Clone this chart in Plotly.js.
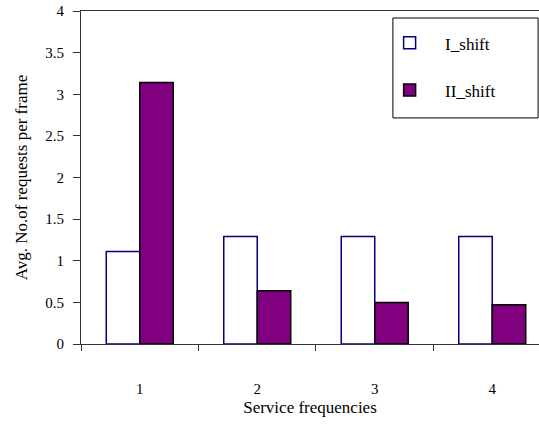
<!DOCTYPE html>
<html><head><meta charset="utf-8">
<script src="https://cdn.plot.ly/plotly-3.0.1.min.js"></script>
<style>html,body{margin:0;padding:0;background:#fff}#c{width:539px;height:425px}</style>
</head><body><div id="c"></div>
<script>
var categories = ["1", "2", "3", "4"];
var iShift = [1.11, 1.29, 1.29, 1.29];
var iiShift = [3.14, 0.64, 0.50, 0.47];
var yTicks = [0, 0.5, 1, 1.5, 2, 2.5, 3, 3.5, 4];

var font = {family: "Liberation Serif, Times New Roman, serif", color: "#000"};
var data = [
  {type: "bar", name: "I_shift", x: categories, y: iShift,
   marker: {color: "#ffffff", line: {color: "#000080", width: 1.5}}, legendgroup: "a"},
  {type: "bar", name: "II_shift", x: categories, y: iiShift,
   marker: {color: "#800080", line: {color: "#000000", width: 1.5}}, legendgroup: "b"}
];
var layout = {
  width: 539, height: 425,
  margin: {l: 81, r: 0, t: 11, b: 81},
  paper_bgcolor: "#fff", plot_bgcolor: "#fff",
  font: Object.assign({size: 15}, font),
  barmode: "group", bargap: 0.43, bargroupgap: 0,
  showlegend: true,
  legend: {x: 0.64, y: 0.957, xanchor: "left", yanchor: "top",
    borderwidth: 0, bgcolor: "rgba(0,0,0,0)",
    font: Object.assign({size: 17}, font),
    traceorder: "grouped", tracegroupgap: 22, itemwidth: 61},
  shapes: [{type: "rect", xref: "paper", yref: "paper",
    x0: 0.681, x1: 0.998, y0: 0.679, y1: 0.979,
    line: {color: "#000", width: 1}, fillcolor: "rgba(255,255,255,1)", layer: "below"}],
  xaxis: {type: "category", range: [-0.5, 3.398], tickson: "boundaries",
    ticks: "outside", ticklen: 6, tickcolor: "#333", showline: true, linecolor: "#333",
    mirror: true, showgrid: false, zeroline: false, ticklabelstandoff: 31,
    tickfont: Object.assign({size: 15}, font),
    title: {text: "Service frequencies", font: Object.assign({size: 17}, font), standoff: 5}},
  yaxis: {range: [0, 4], tickvals: yTicks, ticktext: yTicks.map(String),
    ticks: "outside", ticklen: 7, tickcolor: "#333", showline: true, linecolor: "#333",
    showgrid: false, zeroline: false, ticklabelstandoff: 6,
    tickfont: Object.assign({size: 15}, font),
    title: {text: "Avg. No.of requests per frame", font: Object.assign({size: 17}, font), standoff: 13}}
};
Plotly.newPlot("c", data, layout, {displayModeBar: false, staticPlot: true});
</script></body></html>
